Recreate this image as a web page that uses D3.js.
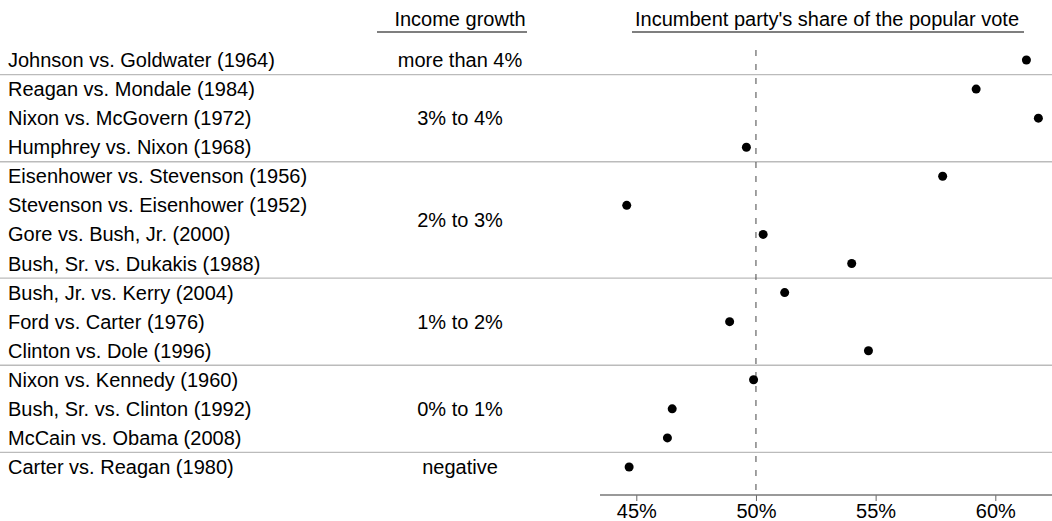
<!DOCTYPE html>
<html><head><meta charset="utf-8">
<script src="https://cdn.jsdelivr.net/npm/d3@7"></script>
<style>body{margin:0;background:#fff}svg{display:block}text{font-family:"Liberation Sans",Arial,sans-serif;fill:#000}</style>
</head><body><svg id="c" width="1052" height="521"></svg>
<script>
const elections = ["Johnson vs. Goldwater (1964)","Reagan vs. Mondale (1984)","Nixon vs. McGovern (1972)","Humphrey vs. Nixon (1968)","Eisenhower vs. Stevenson (1956)","Stevenson vs. Eisenhower (1952)","Gore vs. Bush, Jr. (2000)","Bush, Sr. vs. Dukakis (1988)","Bush, Jr. vs. Kerry (2004)","Ford vs. Carter (1976)","Clinton vs. Dole (1996)","Nixon vs. Kennedy (1960)","Bush, Sr. vs. Clinton (1992)","McCain vs. Obama (2008)","Carter vs. Reagan (1980)"];
const voteShare = [61.3,59.2,61.8,49.6,57.8,44.6,50.3,54.0,51.2,48.9,54.7,49.9,46.5,46.3,44.7];
const growthGroups = ["more than 4%","3% to 4%","2% to 3%","1% to 2%","0% to 1%","negative"];
const groupSizes = [1,3,4,3,3,1];
const xTicks = [45,50,55,60];

const svg = d3.select("#c");
const fs = 20;
const x = d3.scaleLinear().domain([45,60]).range([636.3,995.3]);
const y = d3.scaleBand().domain(d3.range(elections.length)).range([45.5,481.5]);
const yc = i => y(i) + y.bandwidth()/2;

// headers
svg.append("text").attr("x",460).attr("y",26).attr("text-anchor","middle").style("font-size",fs+"px").text("Income growth");
svg.append("line").attr("x1",377).attr("x2",527).attr("y1",32).attr("y2",32).attr("stroke","#555").attr("stroke-width",1.3);
svg.append("text").attr("x",827).attr("y",26).attr("text-anchor","middle").style("font-size",fs+"px").text("Incumbent party's share of the popular vote");
svg.append("line").attr("x1",632).attr("x2",1024).attr("y1",32).attr("y2",32).attr("stroke","#555").attr("stroke-width",1.3);

// separators and group labels
let start = 0;
growthGroups.forEach((g,k)=>{
  const n = groupSizes[k];
  const mid = (yc(start) + yc(start+n-1))/2;
  svg.append("text").attr("x",460).attr("y",mid).attr("dy","0.35em").attr("text-anchor","middle").style("font-size",fs+"px").text(g);
  if (k>0) {
    const ly = y(start);
    svg.append("line").attr("x1",0).attr("x2",1052).attr("y1",ly).attr("y2",ly).attr("stroke","#bbb").attr("stroke-width",1.3);
  }
  start += n;
});

// election labels
svg.selectAll("text.el").data(elections).join("text").attr("class","el")
  .attr("x",8).attr("y",(d,i)=>yc(i)).attr("dy","0.35em").style("font-size",fs+"px").text(d=>d);

// reference line
svg.append("line").attr("x1",x(50)).attr("x2",x(50)).attr("y1",50).attr("y2",495)
  .attr("stroke","#444").attr("stroke-width",1).attr("stroke-dasharray","6,8");

// axis
const ax = svg.append("g").attr("transform","translate(0,495)")
  .call(d3.axisBottom(x).tickValues(xTicks).tickFormat(d=>d+"%").tickSize(6).tickPadding(3));
ax.select(".domain").remove();
ax.selectAll(".tick line").attr("stroke","#666");
ax.selectAll(".tick text").style("font-size",fs+"px").style("font-family","'Liberation Sans',Arial,sans-serif");
svg.append("line").attr("x1",600).attr("x2",1052).attr("y1",495).attr("y2",495).attr("stroke","#777").attr("stroke-width",1.5);

// dots
svg.selectAll("circle").data(voteShare).join("circle")
  .attr("cx",d=>x(d)).attr("cy",(d,i)=>yc(i)).attr("r",4.5).attr("fill","#000");
</script></body></html>
